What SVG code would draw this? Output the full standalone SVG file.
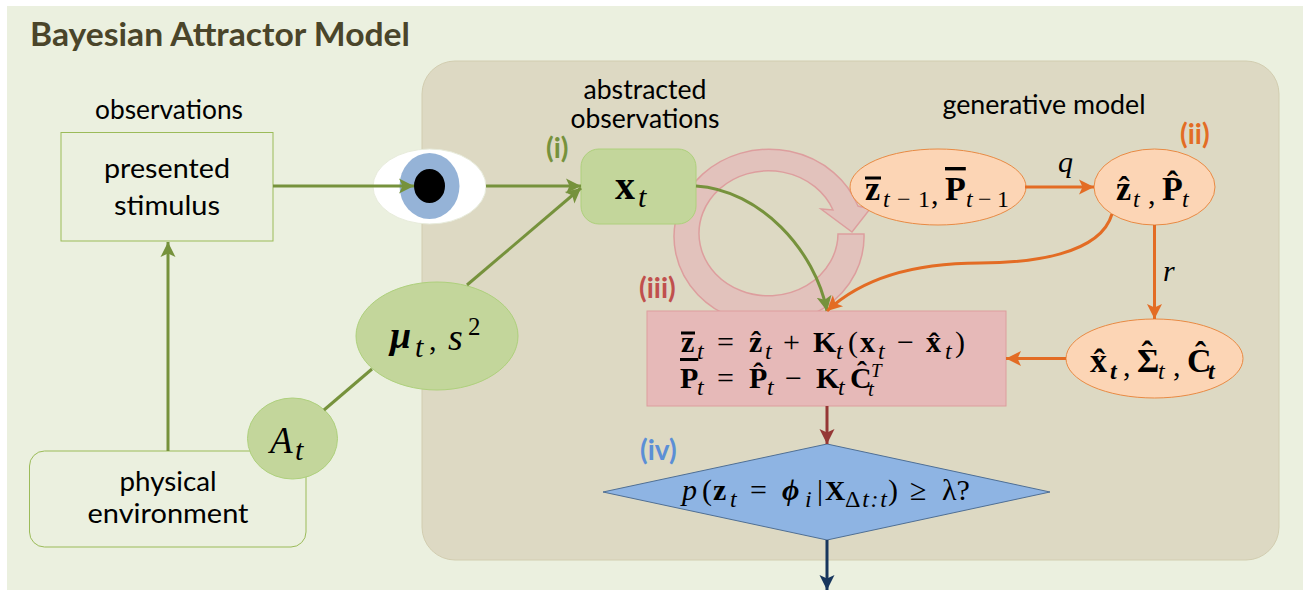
<svg xmlns="http://www.w3.org/2000/svg" width="1303" height="590" viewBox="0 0 1303 590">
<style>
.t{font-family:Lato,"Open Sans",sans-serif;font-size:27px;fill:#000;text-anchor:middle}
.lab{font-family:Lato,"Open Sans",sans-serif;font-size:28px;font-weight:700}
.mm{font-family:"Liberation Serif",serif;font-size:30px;fill:#000}
.n{font-family:"Liberation Serif",serif;font-size:30px;font-weight:700;fill:#000}
.big{font-size:34px}
.s{font-size:24px;font-style:italic}
.up{font-style:normal}
.b{font-weight:700}
.i{font-style:italic}
.ov{text-decoration:overline;text-decoration-thickness:3px}
.c{fill:none;stroke-width:3}
.green{stroke:#76923c}.orange{stroke:#e36c24}
.eo{fill:#fcd5b5;stroke:#e98a43;stroke-width:1}
.eg{fill:#c3d69b;stroke:#aed07c;stroke-width:1}
</style>
<defs>
<marker id="ag" markerUnits="userSpaceOnUse" markerWidth="16" markerHeight="18" refX="15" refY="9" orient="auto"><path d="M0 1.500L15 9L0 16.500L3.500 9Z" fill="#76923c"/></marker>
<marker id="ao" markerUnits="userSpaceOnUse" markerWidth="16" markerHeight="18" refX="15" refY="9" orient="auto"><path d="M0 1.500L15 9L0 16.500L3.500 9Z" fill="#e36c24"/></marker>
<marker id="ar" markerUnits="userSpaceOnUse" markerWidth="16" markerHeight="18" refX="15" refY="9" orient="auto"><path d="M0 1.500L15 9L0 16.500L3.500 9Z" fill="#953735"/></marker>
<marker id="ab" markerUnits="userSpaceOnUse" markerWidth="16" markerHeight="18" refX="15" refY="9" orient="auto"><path d="M0 1.500L15 9L0 16.500L3.500 9Z" fill="#17365d"/></marker>
</defs>
<rect width="1303" height="590" fill="#fff"/>
<rect id="background" x="7" y="6" width="1296" height="584" fill="#ebf0df"/>
<text x="30" y="46" font-family="Lato,sans-serif" font-size="32" font-weight="700" fill="#4a452a" textLength="380" lengthAdjust="spacingAndGlyphs">Bayesian Attractor Model</text>
<rect id="panel" x="422" y="61" width="857" height="499" rx="33" fill="#ddd9c3" stroke="#d2cdb0" stroke-width="1"/>
<path id="cycle" d="M864 234A95 87.500 0 1 1 858 206L870 209L852 232L821 209L833 210A69.500 62.500 0 1 0 838 234Z" fill="#e2c2bc" stroke="#dd9e9e" stroke-width="1.500"/>

<g id="presented-stimulus"><rect x="61" y="132.500" width="212" height="108.500" fill="#ebf0df" stroke="#9bbb59"/>
<text class="t" x="167" y="178" textLength="126" lengthAdjust="spacingAndGlyphs">presented</text><text class="t" x="167" y="215" textLength="106" lengthAdjust="spacingAndGlyphs">stimulus</text></g>
<g id="physical-environment"><rect x="29.500" y="451" width="276.500" height="96" rx="15" fill="#ebf0df" stroke="#9bbb59"/>
<text class="t" x="168" y="491" textLength="97" lengthAdjust="spacingAndGlyphs">physical</text><text class="t" x="168" y="523" textLength="161" lengthAdjust="spacingAndGlyphs">environment</text></g>
<text class="t" x="169" y="119" textLength="148" lengthAdjust="spacingAndGlyphs">observations</text>
<text class="t" x="645" y="99" textLength="123" lengthAdjust="spacingAndGlyphs">abstracted</text>
<text class="t" x="645" y="128" textLength="149" lengthAdjust="spacingAndGlyphs">observations</text>
<text class="t" x="1044" y="114" textLength="203" lengthAdjust="spacingAndGlyphs">generative model</text>
<text class="lab" x="546" y="158" fill="#76923c">(i)</text>
<text class="lab" x="1180" y="144" fill="#e36c24">(ii)</text>
<text class="lab" x="639" y="298" fill="#c0504d">(iii)</text>
<text class="lab" x="640" y="460" fill="#5b8fd6">(iv)</text>

<g id="eye"><ellipse cx="429.500" cy="186.500" rx="56.500" ry="37.500" fill="#fff" stroke="#e8ecdc"/><ellipse cx="429.500" cy="186" rx="30" ry="33" fill="#95b3d7"/><ellipse cx="429.500" cy="186" rx="15.500" ry="17" fill="#000"/></g>

<g id="x-t"><rect x="581" y="149" width="115" height="75" rx="18" fill="#c3d69b" stroke="#aed07c"/>
<text class="n" x="615" y="199" style="font-size:40px">x</text><text class="mm i" x="638" y="207">t</text></g>

<g id="z-bar-prev"><ellipse class="eo" cx="938" cy="187" rx="88" ry="38"/>
<text class="n big" x="865" y="200">z</text><rect x="865" y="176.500" width="16" height="3"/><text class="mm s" x="883" y="207" textLength="47">t<tspan class="up">−1</tspan></text><text class="mm" x="931" y="204">,</text><text class="n big ov" x="945" y="200">P</text><text class="mm s" x="966" y="207" textLength="43">t<tspan class="up">−1</tspan></text></g>
<g id="z-hat"><ellipse class="eo" cx="1154.500" cy="187" rx="60.500" ry="38"/>
<text class="n big" x="1116" y="200">ẑ</text><text class="mm s" x="1133" y="207">t</text><text class="mm" x="1148" y="204">,</text><text class="n big" x="1162" y="200">P̂</text><text class="mm s" x="1182" y="207">t</text></g>
<g id="x-hat"><ellipse class="eo" cx="1154.500" cy="358.500" rx="88.500" ry="39.500"/>
<text class="n big" x="1090" y="372">x̂</text><text class="mm s b" x="1110" y="379">t</text><text class="mm" x="1123" y="376">,</text><text class="n big" x="1137" y="372">Σ</text><text class="n big" x="1141.500" y="365">ˆ</text><text class="mm s" x="1158" y="379">t</text><text class="mm" x="1173" y="376">,</text><text class="n big" x="1187" y="372">Ĉ</text><text class="mm s b" x="1208" y="379">t</text></g>

<g id="update"><rect x="647" y="311" width="359" height="95" fill="#e6b9b8" stroke="#dd9e9e"/>
<text class="n" x="681" y="352">z</text><rect x="681" y="331.500" width="14" height="3"/><text class="mm s" x="697" y="359">t</text><text class="mm" x="717" y="352">=</text><text class="n" x="749" y="352">ẑ</text><text class="mm s" x="765" y="359">t</text><text class="mm" x="783" y="352">+</text><text class="n" x="813" y="352">K</text><text class="mm s" x="836" y="359">t</text><text class="mm" x="848" y="352">(</text><text class="n" x="860" y="352">x</text><text class="mm s" x="878" y="359">t</text><text class="mm" x="897" y="352">−</text><text class="n" x="926" y="352">x̂</text><text class="mm s" x="945" y="359">t</text><text class="mm" x="955" y="352">)</text>
<text class="n ov" x="680" y="388">P</text><text class="mm s" x="697" y="395">t</text><text class="mm" x="717" y="388">=</text><text class="n" x="749" y="388">P̂</text><text class="mm s" x="767" y="395">t</text><text class="mm" x="785" y="388">−</text><text class="n" x="816" y="388">K</text><text class="mm s" x="838" y="395">t</text><text class="n" x="850" y="388">Ĉ</text><text class="mm i" x="871" y="377" style="font-size:19px">T</text><text class="mm s" x="868" y="396" style="font-size:21px">t</text></g>

<g id="decision"><polygon points="603,492 827,444 1050,492 827,540" fill="#8eb4e3" stroke="#4f6f94"/>
<text class="mm i" x="682" y="500">p</text><text class="mm" x="702" y="500">(</text><text class="n" x="713" y="500">z</text><text class="mm s" x="730" y="507">t</text><text class="mm" x="750" y="500">=</text><text class="n i" x="782" y="500">ϕ</text><text class="mm s" x="805" y="507">i</text><text class="mm" x="817" y="500">|</text><text class="n" x="825" y="500" style="font-size:28px">X</text><text class="mm s" x="845" y="507" textLength="42"><tspan class="up">Δ</tspan>t:t</text><text class="mm" x="888" y="500">)</text><text class="mm" x="910" y="500">≥</text><text class="mm" x="942" y="500">λ?</text></g>

<g id="a-t"><ellipse class="eg" cx="292.500" cy="438.500" rx="45" ry="40.500"/><text class="mm i" x="270" y="453" style="font-size:37px">A</text><text class="mm i" x="295" y="460">t</text></g>
<g id="mu-t"><ellipse class="eg" cx="437" cy="336" rx="81" ry="54"/><text class="n i" x="390" y="348" style="font-size:38px">μ</text><text class="mm i" x="415" y="357">t</text><text class="mm" x="429" y="350">,</text><text class="mm i" x="448" y="350" style="font-size:38px">s</text><text class="mm" x="468" y="335" style="font-size:25px">2</text></g>

<g id="connectors">
<path class="c green" d="M273 186H414" marker-end="url(#ag)"/>
<path class="c green" d="M486 186H581" marker-end="url(#ag)"/>
<path class="c green" d="M168 451V242" marker-end="url(#ag)"/>
<path class="c green" d="M324 410L372 369"/>
<path class="c green" d="M467 285L581 188" marker-end="url(#ag)"/>
<path class="c green" d="M696 186C760 190 815 250 827 311" marker-end="url(#ag)"/>
<path class="c orange" d="M1112 214C1100 255 1030 263 980 263C910 263 860 280 827 311" marker-end="url(#ao)"/>
<path class="c orange" d="M1025 187H1094" marker-end="url(#ao)"/>
<path class="c orange" d="M1154.500 225V319" marker-end="url(#ao)"/>
<path class="c orange" d="M1066 358.500H1006" marker-end="url(#ao)"/>
<path class="c" stroke="#953735" d="M827 406V444" marker-end="url(#ar)"/>
<path class="c" stroke="#17365d" d="M827 540V590" marker-end="url(#ab)"/>
</g>
<text class="mm i" x="1058" y="172">q</text>
<text class="mm i" x="1163" y="281">r</text>
</svg>
